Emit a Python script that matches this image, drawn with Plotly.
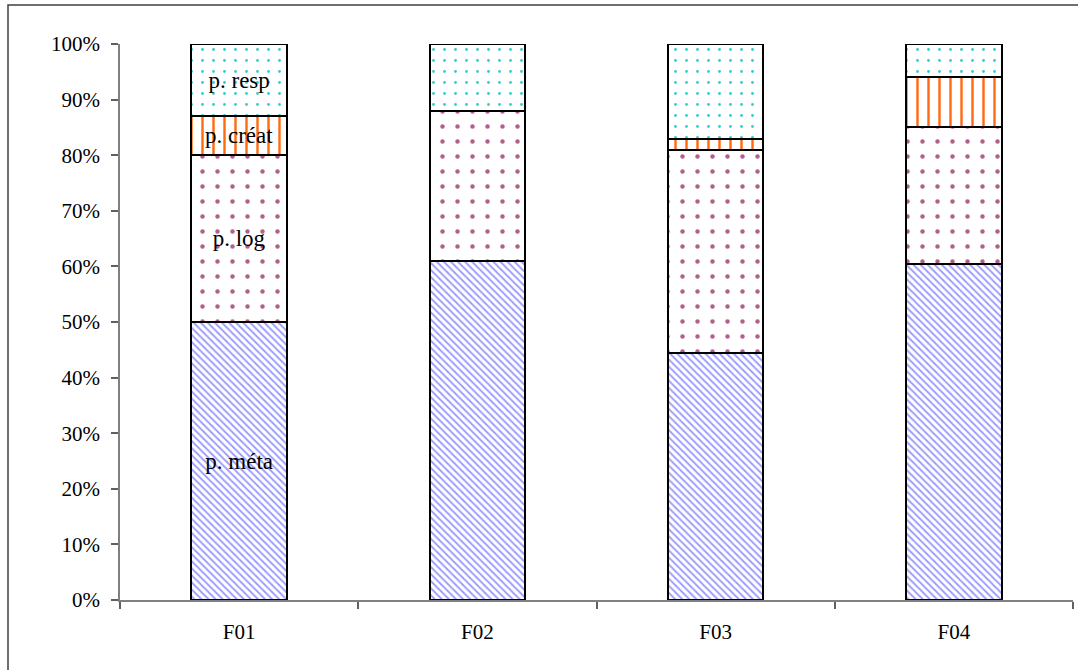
import plotly.graph_objects as go

# Share of each "p." category per group (percent)
groups = ["F01", "F02", "F03", "F04"]
p_meta = [50.0, 61.0, 44.5, 60.5]
p_log = [30.0, 27.0, 36.5, 24.5]
p_creat = [7.0, 0.0, 2.0, 9.0]
p_resp = [13.0, 12.0, 17.0, 6.0]

series = [
    ("p. méta", p_meta, dict(shape="\\", fgcolor="#9c9cff", bgcolor="white", size=5, solidity=0.38, fgopacity=1)),
    ("p. log", p_log, dict(shape=".", fgcolor="#b0608a", bgcolor="white", size=15, solidity=0.07, fgopacity=1)),
    ("p. créat", p_creat, dict(shape="|", fgcolor="#ff6a10", bgcolor="white", size=11, solidity=0.22, fgopacity=1)),
    ("p. resp", p_resp, dict(shape=".", fgcolor="#33cccc", bgcolor="white", size=11, solidity=0.05, fgopacity=1)),
]

W, H = 1078, 670
ML, MR, MT, MB = 120, 5, 44, 70

fig = go.Figure()
for name, vals, pat in series:
    # the category name is written inside the first column only
    labels = [name] + [""] * (len(groups) - 1)
    fig.add_trace(go.Bar(
        x=groups, y=vals, name=name,
        width=0.4,
        marker=dict(color="white", pattern=pat, line=dict(color="black", width=2)),
        text=labels, textposition="inside", insidetextanchor="middle",
        textangle=0, constraintext="none",
        textfont=dict(family="Liberation Serif", size=23, color="black"),
        hoverinfo="skip",
    ))

pw = W - ML - MR
ph = H - MT - MB
x0 = (8 - ML) / pw
y1 = 1 + (MT - 5) / ph
fig.add_shape(type="path", xref="paper", yref="paper",
              path=f"M {x0},-0.2 L {x0},{y1} L 1.05,{y1}",
              line=dict(color="#404040", width=1.5))

fig.update_layout(
    barmode="stack",
    width=W, height=H,
    margin=dict(l=ML, r=MR, t=MT, b=MB),
    paper_bgcolor="white", plot_bgcolor="white",
    showlegend=False,
    font=dict(family="Liberation Serif", size=21, color="black"),
    bargap=0.6,
)
fig.update_xaxes(
    type="category", showline=True, linecolor="#808080", linewidth=1.5,
    ticks="outside", tickson="boundaries", ticklen=7, tickcolor="#606060", tickwidth=1.5,
    showgrid=False, ticklabelstandoff=12,
)
fig.update_yaxes(
    range=[0, 100], tickvals=list(range(0, 101, 10)),
    ticktext=[f"{v}%" for v in range(0, 101, 10)],
    showline=True, linecolor="#808080", linewidth=1.5,
    ticks="outside", ticklen=7, tickcolor="#606060", tickwidth=1.5,
    showgrid=False, zeroline=False, ticklabelstandoff=7,
)

fig.write_html("out.html")
